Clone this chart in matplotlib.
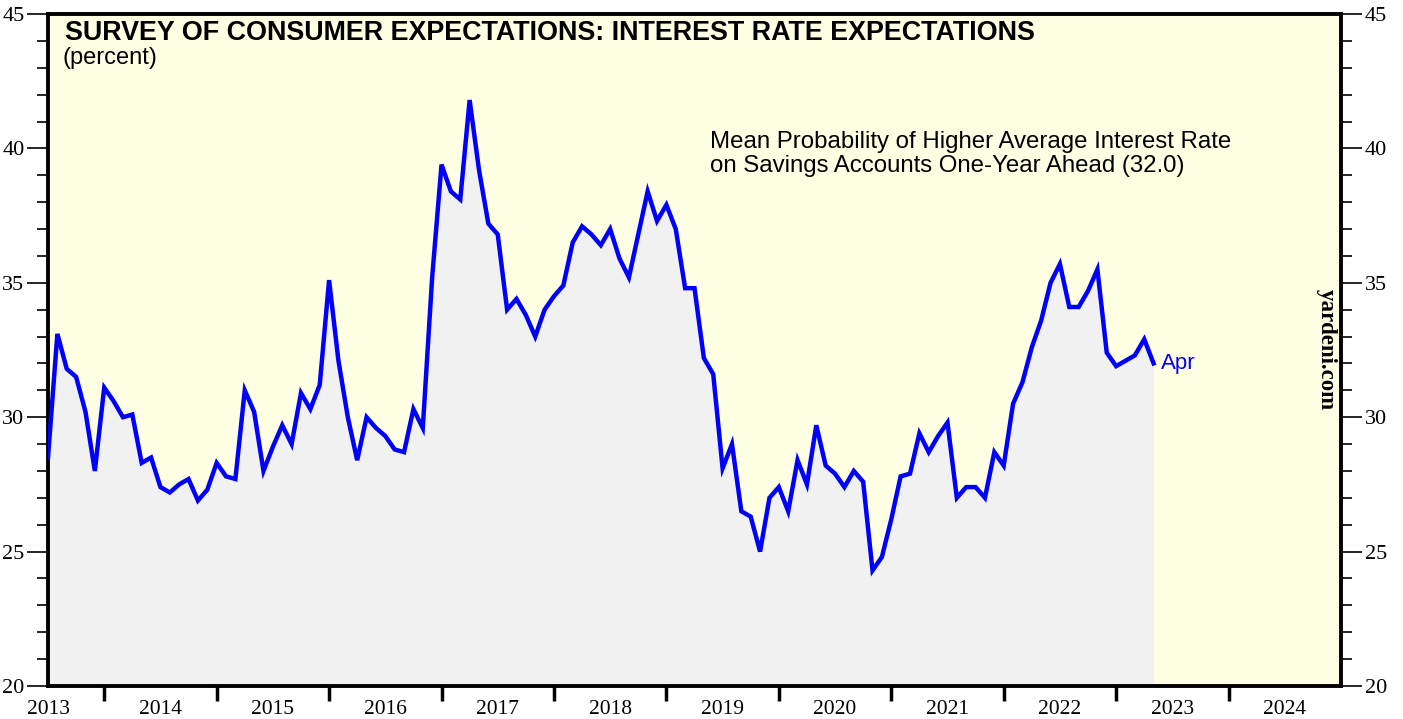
import numpy as np
import matplotlib
matplotlib.use("Agg")
import matplotlib.pyplot as plt
from matplotlib.ticker import MultipleLocator, FixedLocator, NullFormatter, FixedFormatter

# Monthly data, Jun 2013 .. Apr 2023 (percent)
start_year, start_month = 2013, 6
values = [
    28.5, 33.1, 31.8, 31.5, 30.2, 28.0, 31.1, 30.6, 30.0, 30.1,   # Jun13-Mar14
    28.3, 28.5, 27.4, 27.2, 27.5, 27.7, 26.9, 27.3, 28.3, 27.8,   # Apr14-Jan15
    27.7, 31.0, 30.2, 28.0, 28.9, 29.7, 29.0, 30.9, 30.3, 31.2,   # Feb15-Nov15
    35.1, 32.1, 30.0, 28.4, 30.0, 29.6, 29.3, 28.8, 28.7, 30.3,   # Dec15-Sep16
    29.6, 35.2, 39.4, 38.4, 38.1, 41.8, 39.2, 37.2, 36.8, 34.0,   # Oct16-Jul17
    34.4, 33.8, 33.0, 34.0, 34.5, 34.9, 36.5, 37.1, 36.8, 36.4,   # Aug17-May18
    37.0, 35.9, 35.2, 36.8, 38.4, 37.3, 37.9, 37.0, 34.8, 34.8,   # Jun18-Mar19
    32.2, 31.6, 28.1, 29.0, 26.5, 26.3, 25.0, 27.0, 27.4, 26.5,   # Apr19-Jan20
    28.4, 27.5, 29.7, 28.2, 27.9, 27.4, 28.0, 27.6, 24.3, 24.8,   # Feb20-Nov20
    26.2, 27.8, 27.9, 29.4, 28.7, 29.3, 29.8, 27.0, 27.4, 27.4,   # Dec20-Sep21
    27.0, 28.7, 28.2, 30.5, 31.3, 32.6, 33.6, 35.0, 35.7, 34.1,   # Oct21-Jul22
    34.1, 34.7, 35.5, 32.4, 31.9, 32.1, 32.3, 32.9, 32.0,         # Aug22-Apr23
]
year_labels = [str(y) for y in range(2013, 2025)]

# month m of year y plotted at y + m/12
t = np.array([start_year + (start_month + i) / 12 for i in range(len(values))])
v = np.array(values)

bg = "#ffffe4"
fill_col = "#f1f1f1"
blue = "#0000ff"

fig = plt.figure(figsize=(14.03, 7.19), dpi=100)
ax = fig.add_axes([48 / 1403, 33 / 719, (1341 - 48) / 1403, (686 - 14) / 719])
ax.set_facecolor(bg)

ax.fill_between(t, v, 20, color=fill_col, lw=0, zorder=1)
ax.plot(t, v, color=blue, lw=3.2, solid_joinstyle="miter", zorder=3)

ax.set_xlim(2013.5, 2025.0)
ax.set_ylim(20, 45)

for s in ax.spines.values():
    s.set_linewidth(2.8)
    s.set_color("black")

# y axis: both sides
ax.yaxis.set_major_locator(MultipleLocator(5))
ax.yaxis.set_minor_locator(MultipleLocator(1))
ax.tick_params(axis="y", which="both", left=True, right=True,
               labelleft=True, labelright=True, direction="out")
ax.tick_params(axis="y", which="major", length=15, width=1.2, labelsize=16, pad=2)
ax.tick_params(axis="y", which="minor", length=8, width=1.2)

# x axis: ticks at year starts, labels mid-year
ax.xaxis.set_major_locator(FixedLocator(np.arange(2014, 2025)))
ax.xaxis.set_major_formatter(NullFormatter())
ax.xaxis.set_minor_locator(FixedLocator(np.arange(2013.5, 2025, 1.0)))
ax.xaxis.set_minor_formatter(FixedFormatter(year_labels))
ax.tick_params(axis="x", which="major", length=11, width=2.5, direction="out")
ax.tick_params(axis="x", which="minor", length=0, labelsize=15.5, pad=10)

fig.canvas.draw()
for lab in ax.yaxis.get_majorticklabels() + ax.xaxis.get_minorticklabels():
    lab.set_fontfamily("Liberation Serif")
for tk in ax.yaxis.get_major_ticks():
    tk.label2.set_fontfamily("Liberation Serif")

# Titles
fig.text(65 / 1403, 1 - 33 / 719, "SURVEY OF CONSUMER EXPECTATIONS: INTEREST RATE EXPECTATIONS",
         fontfamily="Liberation Sans", fontweight="bold", fontsize=19.4, va="center", ha="left")
fig.text(63 / 1403, 1 - 58 / 719, "(percent)",
         fontfamily="Liberation Sans", fontsize=17, va="center", ha="left")

fig.text(710 / 1403, 1 - 154 / 719,
         "Mean Probability of Higher Average Interest Rate\non Savings Accounts One-Year Ahead (32.0)",
         fontfamily="Liberation Sans", fontsize=17.3, va="center", ha="left", linespacing=1.17)

ax.annotate("Apr", (t[-1], v[-1]), xytext=(5, 0), textcoords="offset points",
            color=blue, fontfamily="Liberation Sans", fontsize=16, va="center", ha="left")

fig.text(1326 / 1403, 1 - 350 / 719, "yardeni.com", rotation=270,
         fontfamily="Liberation Serif", fontweight="bold", fontsize=16.5,
         va="center", ha="center")

fig.savefig("out.png", dpi=100)
